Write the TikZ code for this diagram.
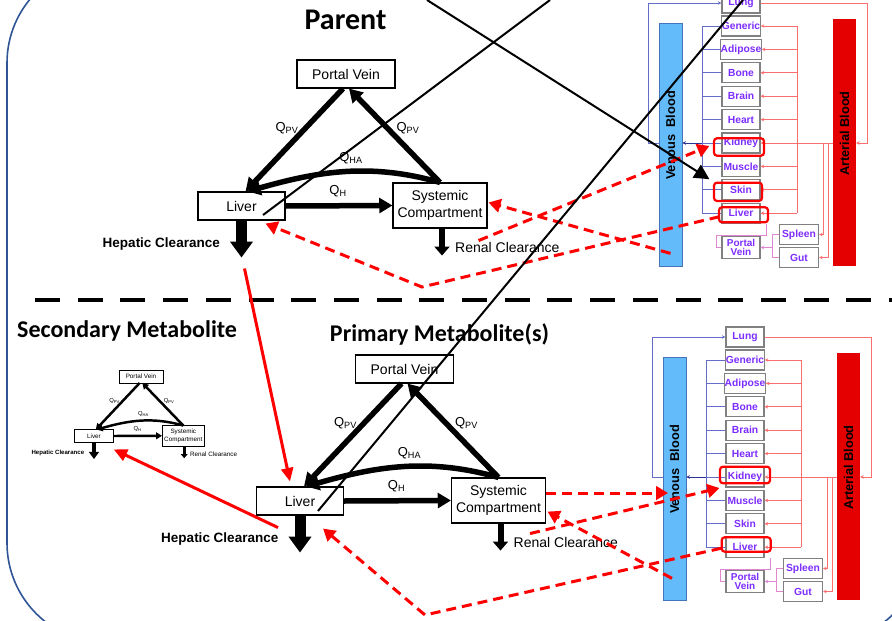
\documentclass[tikz,border=0pt]{standalone}
\usepackage{fontspec}
\setmainfont{Liberation Sans}
\newfontfamily\calibri{Carlito}
\usetikzlibrary{arrows.meta}

\definecolor{frameblue}{RGB}{47,85,151}
\definecolor{venfill}{RGB}{99,187,250}
\definecolor{vendraw}{RGB}{70,115,185}
\definecolor{veinline}{RGB}{100,110,200}
\definecolor{veindark}{RGB}{40,50,150}
\definecolor{artfill}{RGB}{228,0,0}
\definecolor{artline}{RGB}{255,110,110}
\definecolor{portline}{RGB}{225,135,210}
\definecolor{organtxt}{RGB}{125,45,255}

\def\lwf{1}

% liver / portal vein / systemic model, drawn at the size of the parent one
\newcommand{\pkmodel}[1]{%
  \def\lwf{#1}%
  \node[box, minimum width=98, minimum height=28] (pv) at (346,74) {Portal Vein};
  \node[box, minimum width=87, minimum height=28] (liv) at (241.5,206) {Liver};
  \node[box, minimum width=94, minimum height=45] (sys) at (440,205.5) {Systemic\\Compartment};
  \draw[flow] ([shift={(-3,0)}]pv.south) -- ([shift={(4,0)}]liv.north);
  \draw[flow] (sys.north) -- ([shift={(3,0)}]pv.south);
  \draw[flow] (sys.north) .. controls +(-70,-20) and +(70,-20) .. ([shift={(6,0)}]liv.north);
  \draw[flow] (liv.east) -- (sys.west);
  \draw[hepclr] (liv.south) -- ++(0,37) coordinate (hc);
  \draw[renclr] ([shift={(2,0)}]sys.south) -- ++(0,27) coordinate (rc);
  \node[qlab] (qpv1) at (287,128) {Q\textsubscript{PV}};
  \node[qlab] (qpv2) at (408,128) {Q\textsubscript{PV}};
  \node[qlab] (qha) at (351,158) {Q\textsubscript{HA}};
  \node[qlab] (qh) at (338,191) {Q\textsubscript{H}};
  \node[hepatic] (hcl) at (220,244) {Hepatic Clearance};
  \node[renal] (rcl) at (455,247) {Renal Clearance};
}

% whole body PBPK scheme
\newcommand{\pbpk}{%
  \node[venbar] (ven) at (670.5,144.5) {};
  \node[bartxt] at ([shift={(0,-9)}]ven.center) {Venous\ \ Blood};
  \node[artbar] (art) at (844.5,142.6) {};
  \node[bartxt] at ([shift={(0,-9)}]art.center) {Arterial Blood};
  \node[organ] (lung) at (741,3) {Lung};
  \foreach \org/\lab/\ypos in {gen/Generic/26,adi/Adipose/49.4,bone/Bone/72.8,brain/Brain/96.2,heart/Heart/119.6,kidney/Kidney/143,muscle/Muscle/166.4,skin/Skin/189.8,liver/Liver/213.2}
    \node[organ] (\org) at (741,\ypos) {\lab};
  \node[organ, minimum height=22, align=center, font=\bfseries\fontsize{10}{9.8}\selectfont] (pvn) at (741,247.5) {Portal\\Vein};
  \node[organ, minimum width=39] (spleen) at (799,234.5) {Spleen};
  \node[organ, minimum width=39] (gut) at (799,257.5) {Gut};
  \coordinate (lcol) at (648,0);
  \coordinate (vcol) at (702,0);
  \coordinate (pcol) at (772,0);
  \coordinate (acol) at (797,0);
  \coordinate (scol) at (823,0);
  \coordinate (gcol) at (828,0);
  \coordinate (ocol) at (867,0);
  % venous return
  \foreach \org in {gen,adi,bone,brain,heart,kidney,muscle,skin,liver}
    \draw[vein] (\org.west) -- (\org.west -| vcol);
  \draw[vein] (gen.west -| vcol) -- (liver.west -| vcol);
  \draw[vein, veindark, smallhead] (kidney.west -| vcol) -- (kidney.west -| ven.east);
  \draw[vein, smallhead] (kidney.west -| ven.west) -- (kidney.west -| lcol) -- (lung.west -| lcol) -- (lung.west);
  % arterial supply
  \draw[artery, smallhead] (lung.east) -- (lung.east -| ocol) -- (kidney.east -| ocol) -- (kidney.east -| art.east);
  \draw[artery] (kidney.east -| art.west) -- (kidney.east -| acol);
  \draw[artery] (gen.east -| acol) -- (liver.east -| acol);
  \foreach \org in {gen,adi,bone,brain,heart,kidney,muscle,skin,liver}
    \draw[artery, smallhead] (\org.east -| acol) -- (\org.east);
  \draw[artery, smallhead] (kidney.east -| scol) -- (spleen.east -| scol) -- (spleen.east);
  \draw[artery, smallhead] (kidney.east -| gcol) -- (gut.east -| gcol) -- (gut.east);
  % portal
  \draw[portal] ([shift={(6,0)}]liver.south east) |- ([shift={(-5,-12.5)}]pvn.west) |- (pvn.west);
  \draw[portal] (spleen.west) -- (spleen.west -| pcol) -- (gut.west -| pcol) -- (gut.west);
  \draw[portal, smallhead] (pvn.east -| pcol) -- (pvn.east);
}

\begin{document}
\begin{tikzpicture}[x=1pt, y=-1pt,
  box/.style={draw, fill=white, line width=1.1pt*\lwf, inner sep=0pt, align=center, font=\fontsize{14}{16.5}\selectfont},
  qlab/.style={inner sep=0pt, font=\fontsize{13}{14}\selectfont},
  flow/.style={line width=5.5pt*\lwf, -{Triangle[width=0pt 2.7, length=0pt 2.4]}},
  hepclr/.style={line width=11pt*\lwf, -{Triangle[width=0pt 2, length=0pt 1.45]}},
  renclr/.style={line width=6pt*\lwf, -{Triangle[width=0pt 2.5, length=0pt 1.5]}},
  hepatic/.style={inner sep=0pt, anchor=east, font=\bfseries\fontsize{13.5}{15}\selectfont},
  renal/.style={inner sep=0pt, anchor=west, font=\fontsize{14}{16}\selectfont},
  organ/.style={draw=gray, line width=1.2pt, fill=white, inner sep=0pt, minimum width=38, minimum height=20, text=organtxt, font=\bfseries\fontsize{10.3}{11}\selectfont},
  venbar/.style={draw=vendraw, fill=venfill, line width=0.8pt, minimum width=23, minimum height=243, inner sep=0pt},
  artbar/.style={fill=artfill, minimum width=23, minimum height=247, inner sep=0pt},
  bartxt/.style={rotate=90, inner sep=0pt, font=\bfseries\fontsize{12.8}{14}\selectfont},
  vein/.style={veinline, line width=1pt},
  artery/.style={artline, line width=1pt},
  portal/.style={portline, line width=1pt},
  smallhead/.style={-{Stealth[length=3.5pt, width=3.5pt]}},
  hl/.style={draw=red, line width=2.2pt, rounded corners=3pt, inner sep=0pt},
  title/.style={inner sep=0pt, anchor=base, font=\calibri\bfseries\fontsize{24}{28}\selectfont},
  divider/.style={line width=4pt, dash pattern=on 25pt off 17.7pt},
  reddash/.style={red, line width=3pt, dash pattern=on 10pt off 6pt, -{Triangle[width=0pt 4.5, length=0pt 4]}},
  redline/.style={red, line width=3pt, -{Triangle[width=0pt 4, length=0pt 4.5]}},
  blackline/.style={line width=2pt}
]
\useasboundingbox (0,0) rectangle (892,621);
\draw[frameblue, line width=1.6pt, rounded corners=100pt] (7,-37) rectangle (923,643);

\node[title, font=\calibri\bfseries\fontsize{30}{34}\selectfont] (parent) at (345.5,29) {Parent};
\node[title, anchor=base west] (second) at (17,337) {Secondary Metabolite};
\node[title] (primary) at (439.5,341) {Primary Metabolite(s)};

\draw[divider] (35,300) -- (892,300);

% parent
\begin{scope}[name prefix=t-]
  \pkmodel{1}
\end{scope}
\begin{scope}[name prefix=tp-]
  \pbpk
  \node[hl, minimum width=50, minimum height=17.4] (kidhl) at ([shift={(-2,4)}]kidney.center) {};
  \node[hl, minimum width=48, minimum height=18.3] (skinhl) at ([shift={(-3,2)}]skin.center) {};
  \node[hl, minimum width=49, minimum height=15] (livhl) at ([shift={(2.5,1.6)}]liver.center) {};
\end{scope}

% primary metabolite(s)
\begin{scope}[shift={(58.5,295)}, name prefix=b-]
  \pkmodel{1}
\end{scope}
\begin{scope}[shift={(4,334)}, name prefix=bp-]
  \pbpk
  \node[hl, minimum width=50, minimum height=16.6] (kidhl) at ([shift={(0,-2)}]kidney.center) {};
  \node[hl, minimum width=49, minimum height=14.4] (livhl) at ([shift={(1.2,-2.7)}]liver.center) {};
\end{scope}

% secondary metabolite
\begin{scope}[shift={(-14.7,343.3)}, scale=0.45, transform shape, name prefix=m-]
  \pkmodel{0.45}
\end{scope}

% links between the schemes
\coordinate (vt) at (422,287);
\coordinate (vb) at (425,615);
\draw[reddash] ([shift={(-2,3.5)}]tp-liver.west) -- (vt) -- ([shift={(-20,3)}]t-liv.south east);
\draw[reddash] ([shift={(0,-13)}]tp-ven.south) -- ([shift={(1,-3)}]t-sys.east);
\draw[reddash] ([shift={(-9,12)}]t-sys.south east) -- ([shift={(-12,3)}]tp-kidney.west);
\draw[reddash] ([shift={(0,-7.5)}]b-sys.east) -- ([shift={(-6.5,14.5)}]bp-ven.center);
\draw[reddash] ([shift={(-16,10)}]b-sys.south east) -- ([shift={(-6,11)}]bp-kidney.west);
\draw[reddash] ([shift={(-2.5,-22)}]bp-ven.south) -- ([shift={(1.5,-12)}]b-sys.south east);
\draw[reddash] ([shift={(-4,1)}]bp-liver.west) -- (vb) -- ([shift={(-21,13)}]b-liv.south east);
\draw[redline] ([shift={(3,11)}]t-hc) -- ([shift={(-10,-5)}]b-liv.north);
\draw[redline] ([shift={(-22,-25)}]b-hc) -- ([shift={(0,7)}]m-liv.south east);

\coordinate (la) at (427,0);
\coordinate (lb) at (550,0);
\coordinate (lc) at (743,0);
\draw[blackline, -{Triangle[width=0pt 7.5, length=0pt 7.5]}] (la) -- ([shift={(-12,0)}]tp-skin.north west);
\draw[blackline] (lb) -- ([shift={(21.5,9)}]t-liv.center);
\draw[blackline] (lc) -- ([shift={(18,10)}]b-liv.center);
\end{tikzpicture}
\end{document}
